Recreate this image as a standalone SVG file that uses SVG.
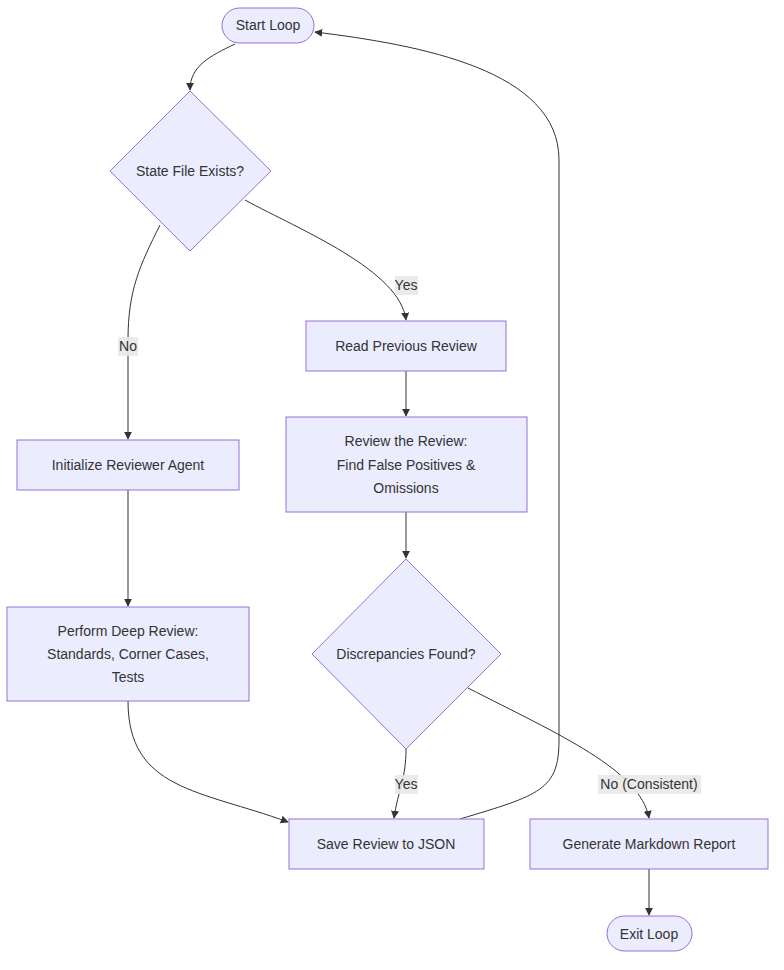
<svg xmlns="http://www.w3.org/2000/svg" width="784" height="970" viewBox="0 0 784 970">
<style>
.n{fill:#ECECFF;stroke:#9370DB;stroke-width:1}
text{font-family:"Liberation Sans",Arial,sans-serif;font-size:14px;fill:#333;text-anchor:middle;dominant-baseline:central}
.e{fill:none;stroke:#333;stroke-width:1;marker-end:url(#a)}
.lb{fill:#e8e8e8;opacity:0.9}
</style>
<defs><marker id="a" viewBox="0 0 10 10" refX="9" refY="5" markerWidth="8" markerHeight="8" orient="auto"><path d="M0,0L10,5L0,10z" fill="#333"/></marker></defs>
<rect width="784" height="970" fill="#fff"/>
<g id="edges">
<path class="e" d="M235,44C210,56 190,66 190,90"/>
<path class="e" d="M245,200C300,230 400,270 406,320"/>
<path class="e" d="M160,225C140,265 128,290 128,340L128,439"/>
<path class="e" d="M406,371L406,416"/>
<path class="e" d="M406,512L406,558"/>
<path class="e" d="M128,490L128,606"/>
<path class="e" d="M128,701C128,790 200,790 288,822"/>
<path class="e" d="M406,749C406,780 398,790 394,818"/>
<path class="e" d="M468,688C560,735 640,770 649,818"/>
<path class="e" d="M460,819C540,795 559,790 559,740L559,160C559,70 420,45 315,32"/>
<path class="e" d="M649,869L649,915"/>
<rect class="lb" x="395" y="276" width="23" height="19"/><text x="406" y="285">Yes</text>
<rect class="lb" x="118" y="337" width="20" height="19"/><text x="128" y="346">No</text>
<rect class="lb" x="395" y="775" width="23" height="19"/><text x="406" y="784">Yes</text>
<rect class="lb" x="598" y="775" width="103" height="19"/><text x="649" y="784">No (Consistent)</text>
</g>
<g id="start"><rect class="n" x="222" y="8" width="92" height="35" rx="17.5"/><text x="268" y="25">Start Loop</text></g>
<g id="stateExists"><polygon class="n" points="190,91 271,171 190,251 110,171"/><text x="190" y="171">State File Exists?</text></g>
<g id="readPrev"><rect class="n" x="306" y="321" width="200" height="50"/><text x="406" y="346">Read Previous Review</text></g>
<g id="init"><rect class="n" x="17" y="440" width="222" height="50"/><text x="128" y="465">Initialize Reviewer Agent</text></g>
<g id="reviewReview"><rect class="n" x="286" y="417" width="241" height="95"/><text x="406" y="441">Review the Review:</text><text x="406" y="465">Find False Positives &amp;</text><text x="406" y="488">Omissions</text></g>
<g id="deep"><rect class="n" x="7" y="607" width="242" height="94"/><text x="128" y="631">Perform Deep Review:</text><text x="128" y="654">Standards, Corner Cases,</text><text x="128" y="677">Tests</text></g>
<g id="disc"><polygon class="n" points="406,559 501,654 406,749 312,654"/><text x="406" y="654">Discrepancies Found?</text></g>
<g id="save"><rect class="n" x="289" y="819" width="195" height="50"/><text x="386" y="844">Save Review to JSON</text></g>
<g id="gen"><rect class="n" x="530" y="819" width="238" height="50"/><text x="649" y="844">Generate Markdown Report</text></g>
<g id="exit"><rect class="n" x="607" y="916" width="85" height="35" rx="17.5"/><text x="649" y="934">Exit Loop</text></g>
</svg>
